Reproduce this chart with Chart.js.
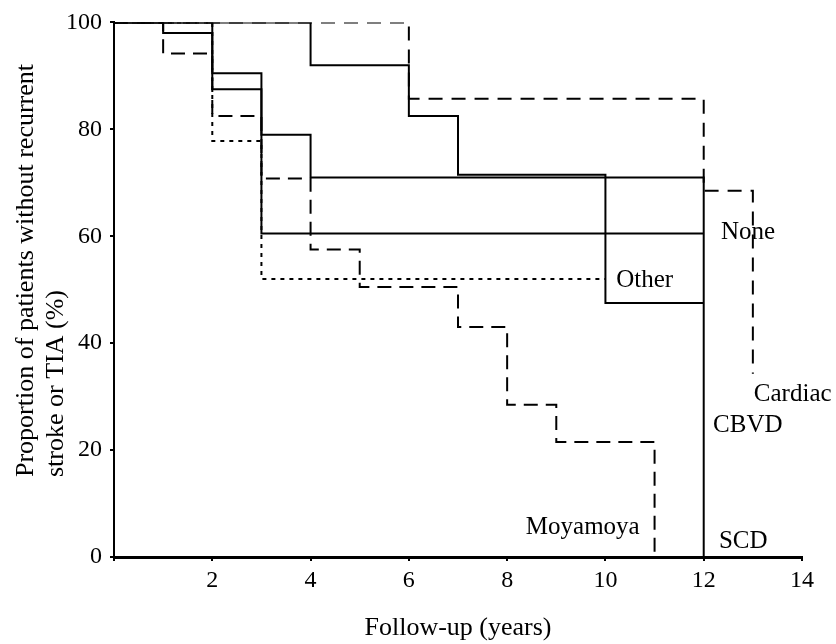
<!DOCTYPE html>
<html>
<head>
<meta charset="utf-8">
<title>Recurrent stroke or TIA by aetiology</title>
<script src="https://cdn.jsdelivr.net/npm/chart.js@4.4.1/dist/chart.umd.min.js"></script>
<style>
    html, body { margin: 0; padding: 0; background: #ffffff; }
    #kmChart { display: block; }
</style>
</head>
<body>
<canvas id="kmChart" width="836" height="644"></canvas>
<script>
// ============================================
// KAPLAN-MEIER CURVES (step lines)
// ============================================

// Follow-up times (years) and proportion without event (%)
const noneYears = [0, 2, 3, 12];
const noneSurv = [100, 87.5, 60.5, 60.5];

const scdYears = [0, 1, 2, 3, 4, 12, 12];
const scdSurv = [100, 98, 90.5, 79, 71, 71, 0];

const cbvdYears = [0, 4, 6, 7, 10, 12];
const cbvdSurv = [100, 92, 82.5, 71.5, 47.5, 47.5];

const otherYears = [0, 2, 3, 10];
const otherSurv = [100, 77.8, 52, 52];

const cardiacYears = [0, 6, 12, 13];
const cardiacSurv = [100, 85.7, 68.5, 34.3];

const moyaYears = [0, 1, 2, 3, 4, 5, 7, 8, 9, 11];
const moyaSurv = [100, 94.2, 82.5, 70.8, 57.5, 50.5, 43, 28.5, 21.5, 0];

// Axis ticks
const xTicks = [0, 2, 4, 6, 8, 10, 12, 14];
const yTicks = [0, 20, 40, 60, 80, 100];

// Curve labels, anchored in data units (left edge, vertical middle)
const curveLabels = ['None', 'Other', 'Cardiac', 'CBVD', 'Moyamoya', 'SCD'];
const labelYears = [12.35, 10.22, 13.02, 12.19, 8.38, 12.31];
const labelSurv = [60.7, 51.8, 30.5, 24.6, 5.6, 2.9];

// Y axis title, two lines, left aligned (drawn bottom-up)
const yTitleLines = ['Proportion of patients without recurrent', 'stroke or TIA (%)'];

(function() {
    'use strict';

    const FONT = "'Liberation Serif', 'Times New Roman', serif";

    function toPoints(xs, ys) {
        return xs.map((x, i) => ({ x: x, y: ys[i] }));
    }

    function stepSet(label, xs, ys, dash) {
        return {
            label: label,
            data: toPoints(xs, ys),
            borderColor: '#000000',
            borderWidth: 2,
            borderDash: dash,
            stepped: 'before', // horizontal first, then the drop
            pointRadius: 0,
            fill: false
        };
    }

    // Text next to each curve + rotated y title
    const curveLabelPlugin = {
        id: 'curveLabels',
        afterDatasetsDraw(chart) {
            const ctx = chart.ctx;
            const xs = chart.scales.x;
            const ys = chart.scales.y;
            ctx.save();
            ctx.font = '25px ' + FONT;
            ctx.fillStyle = '#000000';
            ctx.textAlign = 'left';
            ctx.textBaseline = 'middle';
            curveLabels.forEach((txt, i) => {
                ctx.fillText(txt, xs.getPixelForValue(labelYears[i]), ys.getPixelForValue(labelSurv[i]));
            });
            ctx.restore();

            // y title: baselines at x=33 and x=63, starting at y=477
            ctx.save();
            ctx.font = '26px ' + FONT;
            ctx.fillStyle = '#000000';
            ctx.textAlign = 'left';
            ctx.textBaseline = 'alphabetic';
            yTitleLines.forEach((line, i) => {
                ctx.save();
                ctx.translate(33 + i * 30, 477);
                ctx.rotate(-Math.PI / 2);
                ctx.fillText(line, 0, 0);
                ctx.restore();
            });
            ctx.restore();
        }
    };

    const ctx = document.getElementById('kmChart').getContext('2d');

    new Chart(ctx, {
        type: 'line',
        data: {
            datasets: [
                stepSet('None', noneYears, noneSurv, []),
                stepSet('SCD', scdYears, scdSurv, []),
                stepSet('CBVD', cbvdYears, cbvdSurv, []),
                stepSet('Other', otherYears, otherSurv, [4, 5]),
                stepSet('Cardiac', cardiacYears, cardiacSurv, [14, 9]),
                stepSet('Moyamoya', moyaYears, moyaSurv, [14, 8])
            ]
        },
        options: {
            responsive: false,
            animation: false,
            layout: {
                padding: { left: 0, right: 34, top: 20, bottom: 0 }
            },
            plugins: {
                legend: { display: false },
                tooltip: { enabled: false }
            },
            scales: {
                x: {
                    type: 'linear',
                    min: 0,
                    max: 14,
                    afterFit: function(scale) { scale.height = 87; },
                    afterBuildTicks: function(scale) {
                        scale.ticks = xTicks.map(v => ({ value: v }));
                    },
                    border: { display: true, color: '#000000', width: 3 },
                    grid: {
                        display: true,
                        drawOnChartArea: false,
                        drawTicks: true,
                        tickLength: 4,
                        color: '#000000',
                        lineWidth: 2
                    },
                    ticks: {
                        color: '#000000',
                        padding: 5,
                        maxRotation: 0,
                        font: { family: FONT, size: 24 },
                        callback: function(v) { return v === 0 ? '' : v; }
                    },
                    title: {
                        display: true,
                        text: 'Follow-up (years)',
                        color: '#000000',
                        font: { family: FONT, size: 26 },
                        padding: { top: 0, bottom: 0 }
                    }
                },
                y: {
                    type: 'linear',
                    min: 0,
                    max: 100,
                    afterFit: function(scale) { scale.width = 114; },
                    afterBuildTicks: function(scale) {
                        scale.ticks = yTicks.map(v => ({ value: v }));
                    },
                    border: { display: true, color: '#000000', width: 2 },
                    grid: {
                        display: true,
                        drawOnChartArea: false,
                        drawTicks: true,
                        tickLength: 4,
                        color: '#000000',
                        lineWidth: 2
                    },
                    ticks: {
                        color: '#000000',
                        padding: 8,
                        font: { family: FONT, size: 24 }
                    },
                    title: { display: false }
                }
            }
        },
        plugins: [curveLabelPlugin]
    });
})();
</script>
</body>
</html>
